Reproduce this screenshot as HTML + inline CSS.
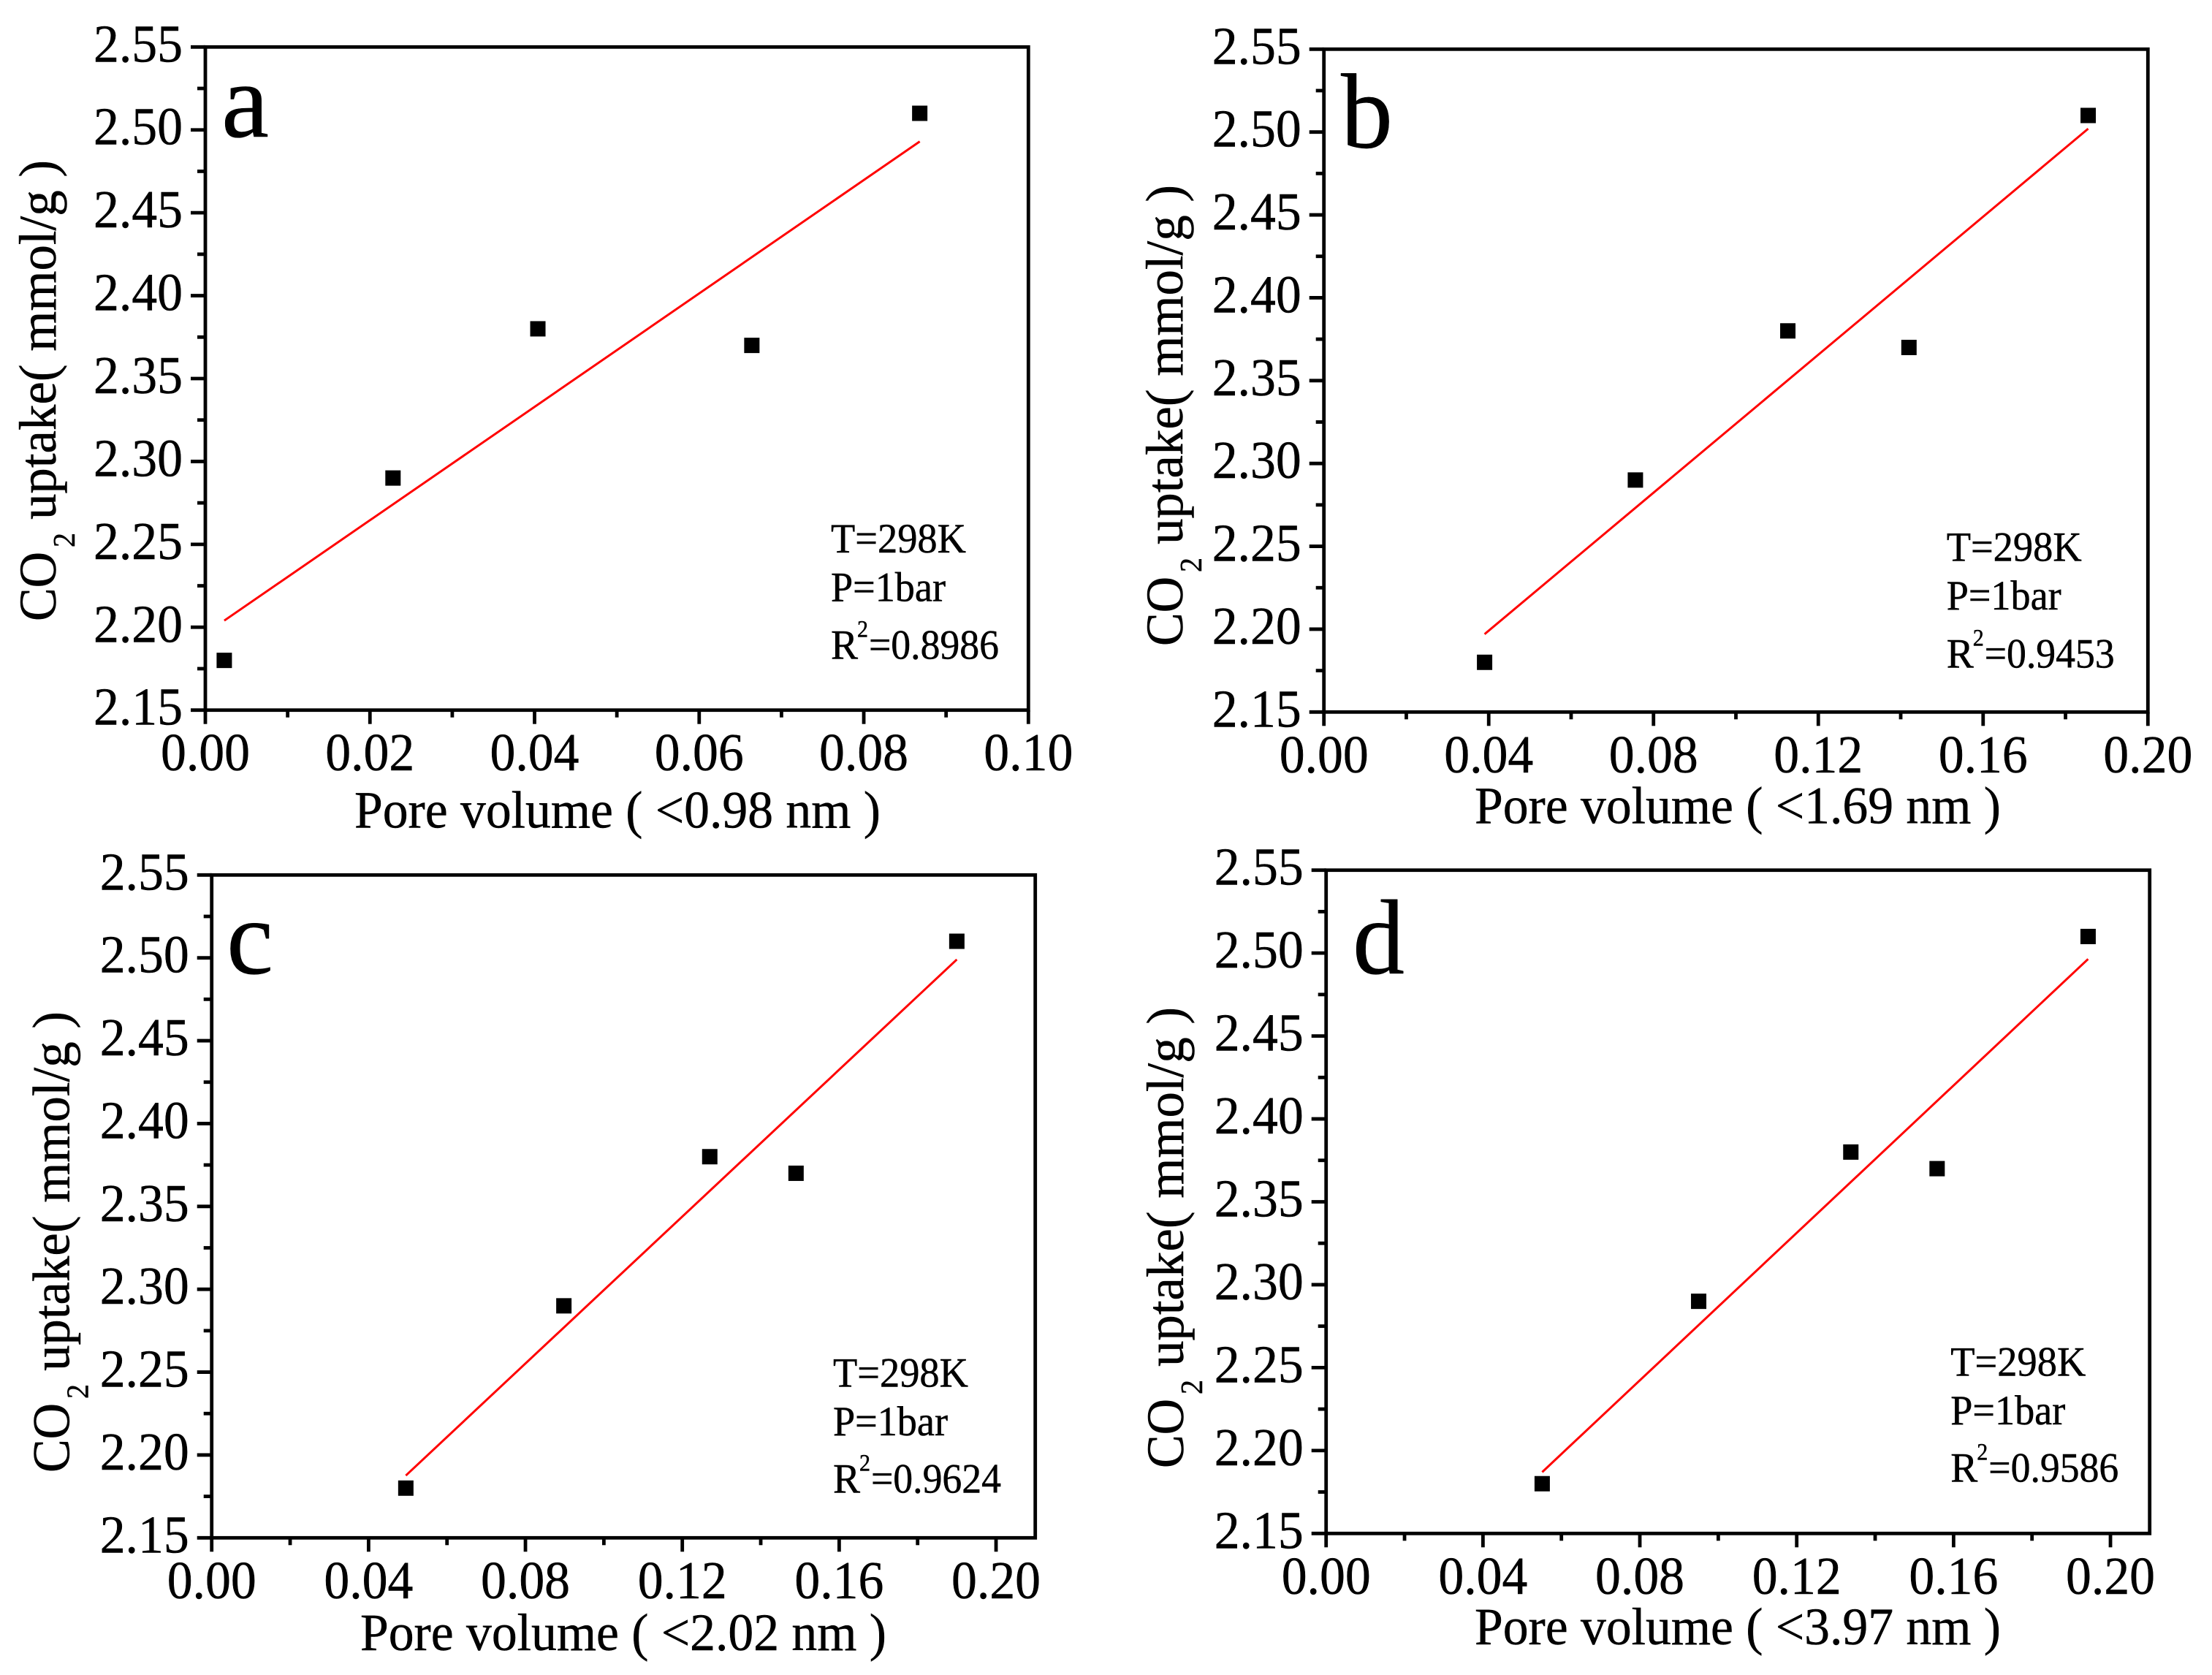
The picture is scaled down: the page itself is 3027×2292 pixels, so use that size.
<!DOCTYPE html>
<html lang="en">
<head>
<meta charset="utf-8">
<title>CO2 uptake versus pore volume</title>
<style>
html,body{margin:0;padding:0;background:#fff;width:3027px;height:2292px;overflow:hidden}
svg{display:block}
text{font-family:"Liberation Serif","Times New Roman",serif;fill:#000;stroke:#000;stroke-width:.5}
</style>
</head>
<body>
<svg id="figure" xmlns="http://www.w3.org/2000/svg" width="3027" height="2292" viewBox="0 0 3027 2292"></svg>
<script>
// ---- chart data ----
const co2Uptake = [2.18, 2.29, 2.38, 2.37, 2.51];
const poreVolumeA = [0.0023, 0.0228, 0.0404, 0.0664, 0.0868];
const poreVolumeB = [0.039, 0.0756, 0.1126, 0.142, 0.1855];
const poreVolumeC = [0.0495, 0.0898, 0.127, 0.149, 0.19];
const poreVolumeD = [0.0551, 0.095, 0.1338, 0.1558, 0.1943];
const fitXA = [0.0023, 0.0868];
const fitYA = [2.204, 2.493];
const fitXB = [0.039, 0.1855];
const fitYB = [2.197, 2.502];
const fitXC = [0.0495, 0.19];
const fitYC = [2.1876, 2.499];
const fitXD = [0.0551, 0.1943];
const fitYD = [2.187, 2.4964];
const yTickLabels = ['2.15', '2.20', '2.25', '2.30', '2.35', '2.40', '2.45', '2.50', '2.55'];
const yMinorTicks = [2.175, 2.225, 2.275, 2.325, 2.375, 2.425, 2.475, 2.525];
const xTickLabelsA = ['0.00', '0.02', '0.04', '0.06', '0.08', '0.10'];
const xMinorTicksA = [0.01, 0.03, 0.05, 0.07, 0.09];
const xTickLabelsWide = ['0.00', '0.04', '0.08', '0.12', '0.16', '0.20'];
const xMinorTicksWide = [0.02, 0.06, 0.10, 0.14, 0.18];

// ---- panel layout ----
const panels = [
  {id:'a', letter:'a', xs:poreVolumeA, fx:fitXA, fy:fitYA, xMax:0.10, ticks:xTickLabelsA, minor:xMinorTicksA,
   l:281, r:1407.3, t:64.3, b:971.7, title:'Pore volume ( <0.98 nm )', tx:485, tb:1132.7,
   yb:76, ys:847, ax:1137, a1:756, a2:822.7, a3:901.7, r2:'=0.8986',
   lx:303, lb:187, ll:65},
  {id:'b', letter:'b', xs:poreVolumeB, fx:fitXB, fy:fitYB, xMax:0.20, ticks:xTickLabelsWide, minor:xMinorTicksWide,
   l:1811.7, r:2939.3, t:67.3, b:974.3, title:'Pore volume ( <1.69 nm )', tx:2018, tb:1126.7,
   yb:1618, ys:881, ax:2663.7, a1:767.7, a2:834, a3:913.3, r2:'=0.9453',
   lx:1835, lb:201.7, ll:71},
  {id:'c', letter:'c', xs:poreVolumeC, fx:fitXC, fy:fitYC, xMax:0.21, ticks:xTickLabelsWide, minor:xMinorTicksWide,
   l:289.7, r:1416.7, t:1197.3, b:2104.3, title:'Pore volume ( <2.02 nm )', tx:493, tb:2258,
   yb:94.7, ys:2012, ax:1140, a1:1897.3, a2:1964, a3:2042.7, r2:'=0.9624',
   lx:310, lb:1332, ll:64},
  {id:'d', letter:'d', xs:poreVolumeD, fx:fitXD, fy:fitYD, xMax:0.21, ticks:xTickLabelsWide, minor:xMinorTicksWide,
   l:1814.7, r:2941.7, t:1190.7, b:2098.3, title:'Pore volume ( <3.97 nm )', tx:2018, tb:2250,
   yb:1619, ys:2006, ax:2669.3, a1:1882.3, a2:1949, a3:2027.7, r2:'=0.9586',
   lx:1851, lb:1332, ll:71}
];

const NS = 'http://www.w3.org/2000/svg';
const root = document.getElementById('figure');
const Y_MIN = 2.15, Y_MAX = 2.55;

function make(tag, parent, attrs) {
  const node = document.createElementNS(NS, tag);
  for (const k in attrs) node.setAttribute(k, attrs[k]);
  parent.appendChild(node);
  return node;
}
function label(parent, str, x, y, size, len, anchor, rotate) {
  const attrs = {x: x, y: y, 'font-size': size, 'text-anchor': anchor || 'start'};
  if (len) { attrs.textLength = len; attrs.lengthAdjust = 'spacingAndGlyphs'; }
  if (rotate) attrs.transform = 'rotate(-90 ' + x + ' ' + y + ')';
  const node = make('text', parent, attrs);
  node.textContent = str;
  return node;
}
function tickLine(parent, x1, y1, x2, y2, w) {
  return make('line', parent, {x1: x1, y1: y1, x2: x2, y2: y2, stroke: '#000', 'stroke-width': w});
}

panels.forEach(function (p) {
  const xScale = function (v) { return p.l + (v / p.xMax) * (p.r - p.l); };
  const yScale = function (v) { return p.b - ((v - Y_MIN) / (Y_MAX - Y_MIN)) * (p.b - p.t); };

  const g = make('g', root, {});
  
  

  const frame = make('rect', g, {x: p.l, y: p.t, width: p.r - p.l, height: p.b - p.t, fill: 'none', stroke: '#000', 'stroke-width': 4.8});
  
  

  yTickLabels.forEach(function (s) {
    const v = parseFloat(s);
    const tick = tickLine(g, p.l - 20, yScale(v), p.l, yScale(v), 4.8);
    
    
    const txt = label(g, s, p.l - 31, yScale(v) + 20, 73, 122, 'end');
    
    
  });
  yMinorTicks.forEach(function (v) {
    const tick = tickLine(g, p.l - 11, yScale(v), p.l, yScale(v), 4.8);
    
    
  });
  p.ticks.forEach(function (s) {
    const v = parseFloat(s);
    const tick = tickLine(g, xScale(v), p.b, xScale(v), p.b + 19, 4.8);
    
    
    const txt = label(g, s, xScale(v), p.b + 82.5, 73, 122, 'middle');
    
    
  });
  p.minor.forEach(function (v) {
    const tick = tickLine(g, xScale(v), p.b, xScale(v), p.b + 10, 4.8);
    
    
  });

  // x-axis title
  const xTitle = label(g, p.title, p.tx, p.tb, 72, 720);
  
  

  // y-axis title (rotated, three runs)
  const yt1 = label(g, 'CO', p.yb, p.ys + 3, 72, 95, 'start', true);
  
  
  const yt2 = label(g, '2', p.yb + 26, p.ys - 98, 42, 20, 'start', true);
  
  
  const yt3 = label(g, 'uptake( mmol/g )', p.yb, p.ys - 136, 72, 492, 'start', true);
  
  

  // fit line
  const fit = make('line', g, {x1: xScale(p.fx[0]), y1: yScale(p.fy[0]), x2: xScale(p.fx[1]), y2: yScale(p.fy[1]), stroke: '#ff0000', 'stroke-width': 3});
  
  

  // data points
  p.xs.forEach(function (xv, i) {
    const pt = make('rect', g, {x: xScale(xv) - 10.5, y: yScale(co2Uptake[i]) - 10.5, width: 21, height: 21, fill: '#000'});
    
    
  });

  // panel letter
  const letter = label(g, p.letter, p.lx, p.lb, 146, p.ll);
  
  

  // annotation
  const an1 = label(g, 'T=298K', p.ax, p.a1, 57, 185);
  
  
  const an2 = label(g, 'P=1bar', p.ax, p.a2, 57, 157);
  
  
  const an3 = label(g, 'R', p.ax, p.a3, 57, 37);
  
  
  const an4 = label(g, '2', p.ax + 36, p.a3 - 30, 33, 15);
  
  
  const an5 = label(g, p.r2, p.ax + 52, p.a3, 57, 178);
  
  
});
</script>
</body>
</html>
